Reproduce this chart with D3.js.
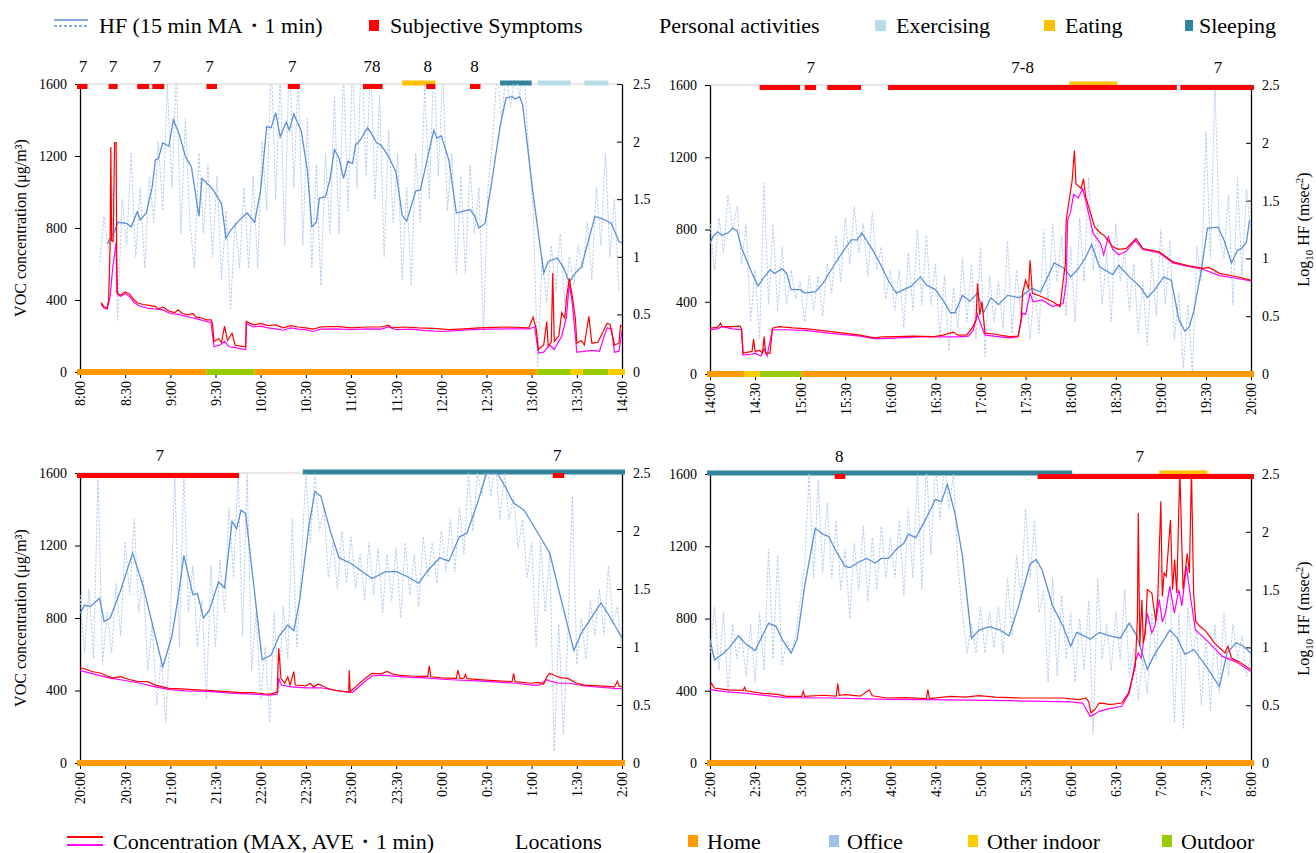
<!DOCTYPE html>
<html>
<head>
<meta charset="utf-8">
<script src="https://cdn.jsdelivr.net/npm/d3@7/dist/d3.min.js"></script>
<style>
  body { margin: 0; background: #fff; }
  svg, svg text { font-family: 'Liberation Serif', 'Times New Roman', Times, Tinos, 'Noto Serif', 'DejaVu Serif', FreeSerif, serif; }
  svg text { fill: #000; }
</style>
</head>
<body>
<div id="chart"></div>
<script>
// ---- data (minutes from panel start) ----
const p1Ticks = ["8:00","8:30","9:00","9:30","10:00","10:30","11:00","11:30","12:00","12:30","13:00","13:30","14:00"];
const p2Ticks = ["14:00","14:30","15:00","15:30","16:00","16:30","17:00","17:30","18:00","18:30","19:00","19:30","20:00"];
const p3Ticks = ["20:00","20:30","21:00","21:30","22:00","22:30","23:00","23:30","0:00","0:30","1:00","1:30","2:00"];
const p4Ticks = ["2:00","2:30","3:00","3:30","4:00","4:30","5:00","5:30","6:00","6:30","7:00","7:30","8:00"];

const RAW_STEP = 3; // 1-min HF shown every 3 min

// panel 1 : 8:00-14:00
const p1HfMa = [[18,1.11],[20,1.16],[23,1.22],[25,1.30],[31,1.29],[34,1.26],[38,1.39],[40,1.32],[44,1.38],[48,1.61],[50,1.84],[52,1.85],[55,1.99],[59,1.96],[62,2.19],[66,2.06],[70,1.87],[74,1.78],[79,1.35],[81,1.68],[88,1.59],[94,1.46],[97,1.16],[100,1.23],[106,1.32],[111,1.38],[116,1.30],[120,1.58],[124,2.13],[127,2.12],[130,2.25],[133,2.04],[137,2.17],[139,2.10],[142,2.24],[147,2.09],[151,1.75],[154,1.26],[157,1.30],[159,1.51],[163,1.52],[166,1.67],[169,1.93],[172,1.86],[175,1.68],[178,1.83],[181,1.81],[183,1.97],[186,2.01],[191,2.12],[194,2.06],[197,1.99],[200,1.97],[205,1.87],[210,1.73],[214,1.36],[217,1.31],[223,1.57],[226,1.58],[229,1.75],[235,2.10],[237,2.03],[240,2.05],[245,1.84],[250,1.38],[259,1.41],[262,1.36],[265,1.25],[269,1.29],[273,1.61],[279,2.13],[283,2.38],[287,2.39],[289,2.37],[292,2.39],[294,2.32],[301,1.54],[308,0.86],[311,0.96],[317,0.99],[321,0.91],[325,0.78],[329,0.86],[333,0.91],[342,1.35],[347,1.33],[353,1.29],[358,1.13],[360,1.12]];
const p1RawStart = 13;
const p1HfRaw = [0.95,1.35,1.05,1.60,0.45,1.5,1.1,1.9,1.0,1.6,
  0.9,1.7,1.3,2.0,1.4,2.5,1.6,2.6,1.2,2.2,
  1.3,0.9,1.9,1.2,1.8,1.0,1.7,0.8,1.4,0.55,
  1.3,0.9,1.6,0.9,1.7,0.9,2.0,1.4,2.7,1.5,
  2.6,1.1,2.8,1.6,2.6,1.1,2.2,0.9,1.8,0.75,
  1.9,1.2,2.4,1.2,2.6,1.4,2.7,1.6,2.8,1.7,
  2.7,1.5,2.4,1.0,2.1,1.3,1.9,0.8,1.6,0.75,
  1.9,1.3,2.5,1.5,2.7,1.7,2.6,1.4,1.9,0.85,
  1.7,0.85,1.8,1.2,1.6,0.35,1.6,2.0,2.6,2.2,
  2.6,2.3,2.6,2.4,2.6,1.9,1.4,0.05,1.0,0.6,
  1.1,0.7,1.2,0.6,1.0,0.75,1.1,0.9,1.3,0.8,
  1.6,1.1,1.9,1.0,1.5,0.7];
const p1VocMax = [[14,385],[16,362],[18,355],[19,400],[20,700],[20.5,1250],[21,730],[22,725],[23,1275],[24,1275],[24.5,440],[27,425],[30,445],[33,432],[36,400],[38,385],[42,375],[46,370],[50,365],[52,348],[55,362],[58,345],[60,335],[63,330],[65,345],[68,325],[72,318],[75,325],[77,305],[81,300],[84,290],[87,290],[88,270],[89,170],[92,185],[94,165],[96,255],[98,175],[101,215],[103,150],[106,145],[110,140],[110.5,282],[113,270],[116,262],[120,270],[125,258],[130,262],[135,245],[140,258],[145,250],[150,245],[155,238],[160,250],[166,252],[172,252],[180,245],[190,250],[200,250],[205,260],[207,245],[215,250],[225,245],[235,242],[245,235],[255,240],[265,245],[275,248],[285,250],[298,245],[301,305],[303,240],[304.5,125],[308,150],[310,280],[311,145],[313,165],[314,550],[315,170],[318,200],[320,330],[322,300],[323,400],[325,520],[327,420],[329,300],[330,160],[333,175],[335,150],[338,310],[340,160],[344,165],[350,270],[352,265],[355,150],[358,160],[359,260],[360,255]];
const p1VocAve = [[14,375],[16,355],[18,350],[20,420],[22,600],[23,650],[24,720],[25,430],[27,420],[30,435],[33,420],[36,385],[40,365],[45,355],[50,350],[55,345],[60,325],[65,320],[70,310],[75,300],[80,290],[84,280],[87,275],[89,140],[93,150],[96,170],[99,140],[103,135],[106,130],[110,125],[110.5,270],[115,250],[120,255],[125,245],[130,240],[135,232],[140,245],[145,238],[150,235],[155,225],[160,238],[170,240],[180,235],[190,240],[200,238],[205,250],[210,235],[220,238],[230,230],[240,225],[250,230],[260,235],[270,238],[285,240],[298,240],[302,250],[304.5,105],[308,110],[312,150],[315,125],[320,200],[323,300],[325,490],[327,380],[329,200],[330,110],[335,115],[340,120],[345,115],[350,245],[353,240],[355,110],[358,115],[360,230]];
const p1Symptoms = [[-2,5],[19,25],[38,46],[48,56],[84,91],[138,146],[188,201],[230,236],[259,266]];
const p1SymptomLabels = [[2,"7"],[22,"7"],[51,"7"],[86,"7"],[141,"7"],[194,"78"],[231,"8"],[262,"8"]];
const p1Activities = [["eating",214,236],["sleeping",279,300],["exercising",304,326],["exercising",335,351]];
const p1Locations = [["home",-2,84],["outdoor",84,116],["home",116,304],["outdoor",304,326],["other",326,334],["outdoor",334,351],["other",351,362]];

// panel 2 : 14:00-20:00
const p2HfMa = [[0,1.13],[2,1.19],[5,1.23],[8,1.20],[12,1.22],[15,1.26],[18,1.24],[21,1.09],[28,0.87],[32,0.76],[35,0.82],[40,0.90],[43,0.87],[48,0.91],[51,0.87],[54,0.73],[60,0.73],[63,0.70],[70,0.71],[75,0.78],[82,0.93],[89,1.07],[94,1.16],[98,1.16],[101,1.22],[107,1.10],[113,0.96],[119,0.80],[124,0.70],[129,0.73],[134,0.76],[140,0.84],[144,0.77],[150,0.73],[155,0.64],[160,0.53],[163,0.53],[168,0.68],[173,0.63],[178,0.70],[182,0.53],[187,0.66],[192,0.60],[198,0.68],[206,0.66],[214,0.74],[220,0.71],[229,0.96],[236,0.91],[240,0.84],[245,0.91],[250,1.01],[254,1.12],[259,0.93],[268,0.86],[272,0.94],[279,0.84],[286,0.76],[291,0.66],[296,0.73],[302,0.84],[307,0.81],[312,0.47],[316,0.37],[319,0.41],[322,0.55],[327,0.90],[331,1.26],[338,1.27],[342,1.16],[347,0.96],[351,1.07],[354,1.09],[357,1.14],[359,1.33]];
const p2RawStart = 0;
const p2HfRaw = [1.3,0.9,1.35,1.05,1.55,1.25,1.45,0.95,1.3,0.45,
  0.9,0.3,1.65,0.6,1.3,0.55,1.1,0.6,0.9,0.65,
  0.8,0.45,0.85,0.55,0.85,0.5,0.95,0.7,1.2,0.8,
  1.35,0.95,1.45,1.05,1.3,0.85,1.4,0.9,1.1,0.65,
  0.9,0.55,0.9,0.4,1.05,0.55,1.25,0.6,1.2,0.6,
  0.95,0.3,0.85,0.2,0.75,0.4,1.0,0.45,0.95,0.3,
  1.1,0.15,0.85,0.45,0.8,0.4,1.15,0.35,0.9,0.5,
  0.8,0.3,0.75,0.35,1.25,0.6,1.3,0.8,1.2,0.5,
  1.1,0.45,1.35,0.8,1.7,0.9,1.3,0.6,1.05,0.45,
  1.3,0.8,1.05,0.55,0.95,0.35,0.8,0.25,1.0,0.5,
  1.25,0.6,1.15,0.3,0.7,0.05,0.6,0.0,1.1,0.8,
  2.1,1.0,2.5,1.2,1.0,1.55,0.6,1.7,0.85,1.6,
  1.2];
const p2VocMax = [[0,254],[5,258],[7,281],[8,262],[15,262],[20,265],[21,250],[22,116],[28,125],[29,193],[30,125],[33,130],[35,116],[36,207],[37,116],[40,116],[41.5,254],[46,262],[55,255],[65,250],[75,240],[89,226],[100,215],[109,200],[115,205],[124,207],[135,210],[149,207],[155,215],[162,232],[165,215],[171,217],[175,262],[177,300],[178,502],[179.5,327],[181,400],[183,226],[190,220],[199,207],[205,210],[207,300],[208,447],[210,520],[212,469],[213,630],[214.5,447],[221,428],[228,400],[233,373],[234.5,483],[236.5,612],[237,851],[239,962],[241,1072],[242.5,1237],[243.5,1054],[247,1026],[248.5,1081],[250,980],[256,814],[260,778],[262,770],[268,704],[272,690],[277,695],[283.5,750],[288,695],[299,676],[308,621],[318,600],[328,585],[332,590],[339,557],[350,540],[360,520]];
const p2VocAve = [[0,245],[5,250],[8,262],[15,250],[21,245],[22,105],[28,110],[30,115],[34,100],[36,140],[38,100],[41.5,245],[50,245],[65,240],[80,225],[100,210],[110,195],[125,200],[140,205],[155,205],[165,205],[172,210],[175,240],[178,330],[180,280],[183,215],[199,200],[205,205],[208,337],[210,330],[213,447],[215,400],[221,410],[228,373],[235,390],[237,500],[238,851],[240,900],[242,995],[245,975],[248,1026],[250,960],[255,778],[260,720],[262,660],[265,760],[268,690],[272,660],[277,680],[283,740],[288,690],[299,670],[308,615],[318,595],[328,580],[339,545],[350,530],[360,515]];
const p2Symptoms = [[33,60],[63,70.5],[78,100.5],[118.5,310.7],[313,362]];
const p2SymptomLabels = [[67,"7"],[208,"7-8"],[338,"7"]];
const p2Activities = [["eating",239,271]];
const p2Locations = [["home",-2,23],["other",23,33],["outdoor",33,61],["home",61,362]];

// panel 3 : 20:00-2:00
const p3HfMa = [[0,1.29],[3,1.36],[7,1.35],[13,1.42],[16,1.22],[20,1.25],[27,1.49],[35,1.81],[42,1.52],[55,0.83],[61,1.09],[65,1.41],[69,1.79],[75,1.45],[78,1.46],[82,1.25],[86,1.32],[92,1.56],[96,1.51],[101,2.08],[104,2.02],[107,2.18],[110,2.15],[121,0.89],[127,0.93],[132,1.09],[138,1.19],[142,1.14],[146,1.41],[152,2.04],[156,2.34],[160,2.30],[166,2.01],[172,1.77],[180,1.72],[194,1.59],[203,1.65],[210,1.65],[217,1.61],[225,1.55],[231,1.66],[239,1.77],[245,1.74],[252,1.95],[257,1.98],[264,2.24],[270,2.50],[277,2.50],[283,2.37],[288,2.24],[295,2.18],[307,1.92],[312,1.81],[318,1.49],[328,0.97],[333,1.12],[346,1.38],[351,1.28],[360,1.08]];
const p3RawStart = 0;
const p3HfRaw = [1.45,0.95,1.5,0.9,2.5,0.85,1.3,0.95,1.55,1.1,
  1.9,1.45,2.1,1.3,1.6,0.8,1.2,0.5,0.9,0.35,
  1.2,2.5,1.0,2.5,1.3,1.7,1.0,1.4,0.55,1.7,
  1.0,1.75,1.3,2.2,1.6,2.5,1.1,2.5,0.8,1.3,
  0.55,1.0,0.35,1.3,0.6,1.35,0.9,2.1,1.0,1.7,
  2.5,1.9,2.5,2.0,2.2,1.6,1.9,1.5,2.0,1.55,
  1.95,1.5,1.8,1.4,1.9,1.45,1.85,1.3,1.8,1.4,
  1.85,1.25,1.9,1.45,1.8,1.35,1.95,1.6,1.9,1.55,
  2.0,1.65,2.1,1.65,2.2,1.8,2.5,2.0,2.5,2.3,
  2.6,2.3,2.6,2.1,2.5,2.1,2.3,1.85,2.1,1.6,
  1.9,1.0,1.9,1.3,1.8,0.1,1.2,0.25,1.1,2.3,
  0.85,1.25,0.9,1.4,1.1,1.5,1.1,1.7,1.2,1.35,
  0.95];
const p3VocMax = [[0,526],[3,520],[8,505],[14,495],[18,480],[22,470],[27,476],[32,462],[38,450],[45,449],[50,430],[55,420],[59,412],[65,410],[75,405],[87,400],[95,395],[105,390],[115,388],[122,382],[127,380],[131,393],[132,633],[133.5,467],[136,440],[138,475],[139.5,430],[142,504],[143,430],[150,425],[153,440],[155,420],[158,435],[160,430],[165,410],[170,400],[175,395],[178.5,393],[178.8,512],[179.5,393],[183,420],[190,470],[194,495],[200,492],[204,505],[208,490],[211,485],[220,480],[226,478],[231,478],[232,536],[233,476],[240,470],[250,467],[251,512],[252.5,467],[255,468],[256,490],[257,465],[265,460],[275,455],[287,449],[288,495],[289,449],[300,440],[304,445],[308,435],[310,475],[312,495],[316,480],[320,470],[324,467],[330,440],[335,430],[345,425],[355,420],[357,450],[358,425],[360,421]];
const p3VocAve = [[0,510],[5,500],[12,485],[20,468],[30,455],[40,440],[50,420],[60,405],[70,398],[85,395],[100,385],[115,380],[125,375],[131,380],[132,465],[134,430],[140,420],[150,415],[160,415],[170,400],[178,390],[181,390],[190,455],[194,480],[200,485],[210,478],[220,472],[230,470],[240,462],[250,458],[260,455],[270,450],[280,445],[290,440],[300,430],[305,430],[310,460],[313,450],[318,440],[325,440],[335,425],[345,418],[355,412],[360,410]];
const p3Symptoms = [[-2,105.6],[314,321.6]];
const p3SymptomLabels = [[53,"7"],[317,"7"]];
const p3Activities = [["sleeping",148,362]];
const p3Locations = [["home",-2,362]];

// panel 4 : 2:00-8:00
const p4HfMa = [[0,1.07],[3,0.89],[9,0.95],[13,1.00],[19,1.10],[23,1.04],[30,0.97],[34,1.08],[39,1.21],[44,1.18],[48,1.07],[54,0.95],[58,1.07],[63,1.53],[70,2.03],[75,1.98],[79,1.96],[84,1.83],[90,1.70],[93,1.69],[98,1.73],[104,1.77],[110,1.73],[114,1.77],[119,1.77],[124,1.85],[129,1.90],[132,1.98],[137,1.95],[144,2.12],[150,2.28],[154,2.26],[158,2.41],[163,2.16],[168,1.79],[174,1.08],[179,1.15],[186,1.18],[193,1.15],[199,1.10],[205,1.34],[213,1.72],[217,1.76],[221,1.67],[228,1.36],[235,1.18],[240,1.01],[244,1.13],[249,1.10],[253,1.07],[259,1.13],[266,1.10],[273,1.08],[279,1.21],[284,1.10],[291,0.81],[295,0.92],[306,1.15],[311,1.08],[316,0.94],[322,0.98],[330,0.84],[339,0.66],[344,0.95],[350,1.04],[355,1.01],[360,0.95]];
const p4RawStart = 0;
const p4HfRaw = [0.95,1.35,0.8,1.3,0.6,1.2,0.9,1.1,0.75,1.2,
  0.7,1.3,0.8,1.85,0.9,1.8,0.85,1.05,0.95,1.1,
  1.4,1.7,2.5,1.6,2.45,1.65,2.25,1.6,2.1,1.5,
  1.85,1.25,1.9,1.5,2.05,1.4,1.95,1.5,2.05,1.6,
  1.95,1.6,2.1,1.45,2.2,1.6,2.5,1.5,2.6,1.8,
  2.6,2.1,2.6,2.2,2.5,1.7,1.3,0.95,1.2,0.95,
  1.35,0.95,1.3,1.0,1.35,0.95,1.6,1.1,1.8,1.4,
  2.2,1.6,2.1,1.3,1.5,0.7,1.6,0.75,1.45,0.9,
  1.3,0.7,1.25,0.8,1.4,0.25,1.6,0.9,1.2,0.8,
  1.3,0.9,1.5,0.75,1.0,0.55,0.9,0.6,1.3,0.9,
  1.7,1.2,1.55,0.35,1.3,0.3,1.35,0.95,1.15,0.5,
  1.1,0.45,1.2,0.6,1.3,0.75,1.2,0.9,1.1,0.75,
  0.95];
const p4VocMax = [[0,424],[1,440],[3,415],[12,405],[22,402],[23,420],[24,400],[35,385],[45,380],[51,369],[61,369],[62,397],[63,369],[75,375],[84,370],[85,440],[86,375],[90,378],[100,370],[106,405],[108,372],[118,360],[130,362],[144,356],[145,406],[146,356],[160,369],[170,365],[179,373],[190,365],[200,362],[207,360],[220,360],[235,360],[240,355],[246,351],[250,360],[252,340],[253.5,277],[256,295],[259,332],[262,330],[266,323],[274,332],[278.5,388],[283,535],[284.4,793],[285,1384],[286,646],[287.4,904],[288.3,664],[289.7,720],[291,960],[294,941],[296.6,784],[298,923],[300,1449],[301,923],[302.2,1052],[303.6,1033],[306.4,1347],[307.8,960],[309.2,1126],[310.6,941],[312.6,1620],[314.8,960],[317.6,1159],[319,1052],[320.4,1620],[321.8,941],[323.2,784],[326,757],[330,729],[335.8,664],[342.7,609],[344.7,646],[347,581],[352,560],[360,517]];
const p4VocAve = [[0,406],[10,395],[25,385],[50,362],[80,360],[120,352],[160,350],[200,345],[240,338],[248,332],[253,258],[256,270],[259,286],[265,300],[274,314],[279,388],[283,560],[285,609],[287,580],[291,830],[294,720],[296,757],[299,904],[301,780],[303,830],[306,978],[309,830],[312,960],[314,870],[317,1089],[320,904],[323,738],[330,683],[341,590],[350,560],[360,507]];
const p4Symptoms = [[83,90],[218,362]];
const p4SymptomLabels = [[86,"8"],[286,"7"]];
const p4Activities = [["sleeping",-2,241],["eating",299,331]];
const p4Locations = [["home",-2,362]];

const vocTicks = [0, 400, 800, 1200, 1600];
const hfTicks = [0, 0.5, 1, 1.5, 2, 2.5];

// ---- styles ----
const colors = {
  home: "#ff9900", office: "#9dc3e6", other: "#ffcc00", outdoor: "#99cc00",
  exercising: "#b7dee8", eating: "#ffc000", sleeping: "#31849b",
  symptom: "#ff0000", vocMax: "#ff0000", vocAve: "#ff00ff",
  hfMa: "#5b8fd9", hfRaw: "#b6cdee"
};

const panels = [
  {x0: 80, x1: 622, y0: 84, y1: 372, left: true,
   ticks: p1Ticks, hfMa: p1HfMa, rawStart: p1RawStart, hfRaw: p1HfRaw, vocMax: p1VocMax, vocAve: p1VocAve,
   symptoms: p1Symptoms, labels: p1SymptomLabels, activities: p1Activities, locations: p1Locations},
  {x0: 710, x1: 1251, y0: 85, y1: 374, left: false,
   ticks: p2Ticks, hfMa: p2HfMa, rawStart: p2RawStart, hfRaw: p2HfRaw, vocMax: p2VocMax, vocAve: p2VocAve,
   symptoms: p2Symptoms, labels: p2SymptomLabels, activities: p2Activities, locations: p2Locations},
  {x0: 80, x1: 622, y0: 473, y1: 763, left: true,
   ticks: p3Ticks, hfMa: p3HfMa, rawStart: p3RawStart, hfRaw: p3HfRaw, vocMax: p3VocMax, vocAve: p3VocAve,
   symptoms: p3Symptoms, labels: p3SymptomLabels, activities: p3Activities, locations: p3Locations},
  {x0: 710, x1: 1251, y0: 474, y1: 763, left: false,
   ticks: p4Ticks, hfMa: p4HfMa, rawStart: p4RawStart, hfRaw: p4HfRaw, vocMax: p4VocMax, vocAve: p4VocAve,
   symptoms: p4Symptoms, labels: p4SymptomLabels, activities: p4Activities, locations: p4Locations}
];

const svg = d3.select("#chart").append("svg")
  .attr("width", 1316).attr("height", 853);

function styleAxis(g) {
  g.attr("font-family", null).attr("font-size", 14);
  g.selectAll("text").attr("fill", "#000");
  g.selectAll("line").attr("stroke", "#000");
}

panels.forEach((p, idx) => {
  const g = svg.append("g").attr("class", "panel" + idx);

  const x = d3.scaleLinear().domain([0, 360]).range([p.x0, p.x1]);
  const yL = d3.scaleLinear().domain([0, 1600]).range([p.y1, p.y0]);
  const yR = d3.scaleLinear().domain([0, 2.5]).range([p.y1, p.y0]);

  const clipId = "clip" + idx;
  svg.append("clipPath").attr("id", clipId).append("rect")
    .attr("x", p.x0).attr("y", p.y0).attr("width", p.x1 - p.x0).attr("height", p.y1 - p.y0);

  // top frame line
  g.append("line")
    .attr("x1", p.x0).attr("x2", p.x1).attr("y1", p.y0).attr("y2", p.y0)
    .attr("stroke", "#d0d0d0").attr("stroke-width", 1.2);

  // axes
  const axL = g.append("g").attr("transform", `translate(${p.x0},0)`)
    .call(d3.axisLeft(yL).tickValues(vocTicks).tickSize(5).tickSizeOuter(0).tickPadding(8)
      .tickFormat(d3.format("d")));
  styleAxis(axL);
  axL.select(".domain").attr("stroke", "#000").attr("stroke-width", 1.3);

  const axR = g.append("g").attr("transform", `translate(${p.x1},0)`)
    .call(d3.axisRight(yR).tickValues(hfTicks).tickSize(-5).tickSizeOuter(0).tickPadding(11).tickFormat(d => String(d)));
  styleAxis(axR);
  axR.select(".domain").attr("stroke", "#000").attr("stroke-width", 1.3);

  const axB = g.append("g").attr("transform", `translate(0,${p.y1})`)
    .call(d3.axisBottom(x).tickValues(d3.range(0, 361, 30)).tickSize(6).tickFormat((d, i) => p.ticks[i]));
  styleAxis(axB);
  axB.select(".domain").remove();
  axB.selectAll("text")
    .attr("transform", "rotate(-90)")
    .attr("x", -9).attr("y", 0).attr("dy", "0.35em")
    .attr("text-anchor", "end");

  // activity bars (above the frame)
  g.selectAll(".act").data(p.activities).join("rect")
    .attr("class", "act")
    .attr("x", d => x(d[1])).attr("width", d => x(d[2]) - x(d[1]))
    .attr("y", p.y0 - 3.5).attr("height", 5)
    .attr("fill", d => colors[d[0]]);

  // 1-min HF (dashed), 15-min MA, concentrations
  const lines = g.append("g").attr("clip-path", `url(#${clipId})`);
  const lineR = d3.line().x(d => x(d[0])).y(d => yR(d[1]));
  const lineL = d3.line().x(d => x(d[0])).y(d => yL(d[1]));
  const raw = p.hfRaw.map((v, i) => [p.rawStart + i * RAW_STEP, v]);

  lines.append("path").datum(raw).attr("d", lineR)
    .attr("fill", "none").attr("stroke", colors.hfRaw).attr("stroke-width", 1)
    .attr("stroke-dasharray", "2.5,1.5");
  lines.append("path").datum(p.hfMa).attr("d", lineR)
    .attr("fill", "none").attr("stroke", colors.hfMa).attr("stroke-width", 1.3);
  lines.append("path").datum(p.vocAve).attr("d", lineL)
    .attr("fill", "none").attr("stroke", colors.vocAve).attr("stroke-width", 1.2);
  lines.append("path").datum(p.vocMax).attr("d", lineL)
    .attr("fill", "none").attr("stroke", colors.vocMax).attr("stroke-width", 1.2);

  // symptom bars (just under the frame)
  g.selectAll(".sym").data(p.symptoms).join("rect")
    .attr("class", "sym")
    .attr("x", d => x(d[0])).attr("width", d => x(d[1]) - x(d[0]))
    .attr("y", p.y0).attr("height", 5)
    .attr("fill", colors.symptom);

  g.selectAll(".symLabel").data(p.labels).join("text")
    .attr("class", "symLabel")
    .attr("x", d => x(d[0])).attr("y", p.y0 - 18)
    .attr("dy", "0.35em").attr("text-anchor", "middle")
    .attr("font-size", 17)
    .text(d => d[1]);

  // locations bar on the time axis
  g.selectAll(".loc").data(p.locations).join("rect")
    .attr("class", "loc")
    .attr("x", d => x(d[1])).attr("width", d => x(d[2]) - x(d[1]))
    .attr("y", p.y1 - 3).attr("height", 6)
    .attr("fill", d => colors[d[0]]);

  // axis titles
  const midY = (p.y0 + p.y1) / 2;
  if (p.left) {
    g.append("text")
      .attr("transform", `translate(20,${midY}) rotate(-90)`)
      .attr("text-anchor", "middle").attr("dy", "0.35em")
      .attr("font-size", 16)
      .text("VOC concentration (μg/m³)");
  } else {
    const t = g.append("text")
      .attr("transform", `translate(1303,${midY}) rotate(-90)`)
      .attr("text-anchor", "middle").attr("dy", "0.35em")
      .attr("font-size", 16);
    t.append("tspan").text("Log");
    t.append("tspan").attr("font-size", 11).attr("dy", 4).text("10");
    t.append("tspan").attr("dy", -4).text(" HF (msec");
    t.append("tspan").attr("font-size", 11).attr("dy", -6).text("2");
    t.append("tspan").attr("dy", 6).text(")");
  }
});

// ---- legends ----
function legendText(g, x, y, label) {
  g.append("text").attr("x", x).attr("y", y).attr("dy", "0.35em").text(label);
}

const legTop = svg.append("g").attr("font-size", 22);
legTop.append("line").attr("x1", 54).attr("x2", 88).attr("y1", 20).attr("y2", 20)
  .attr("stroke", colors.hfMa).attr("stroke-width", 1.3);
legTop.append("line").attr("x1", 54).attr("x2", 88).attr("y1", 26).attr("y2", 26)
  .attr("stroke", colors.hfMa).attr("stroke-width", 1.3).attr("stroke-dasharray", "3,2");
legendText(legTop, 99, 25, "HF (15 min MA・1 min)");
legTop.append("rect").attr("x", 369).attr("y", 20).attr("width", 10).attr("height", 11).attr("fill", colors.symptom);
legendText(legTop, 390, 25, "Subjective Symptoms");
legendText(legTop, 659, 25, "Personal activities");
[["exercising", 875, 896, "Exercising"], ["eating", 1044, 1065, "Eating"], ["sleeping", 1185, 1199, "Sleeping"]]
  .forEach(([k, sx, tx, label]) => {
    legTop.append("rect").attr("x", sx).attr("y", 20).attr("width", k === "sleeping" ? 8 : 11).attr("height", 11).attr("fill", colors[k]);
    legendText(legTop, tx, 25, label);
  });

const legBot = svg.append("g").attr("font-size", 22);
legBot.append("line").attr("x1", 67).attr("x2", 103).attr("y1", 837).attr("y2", 837)
  .attr("stroke", colors.vocMax).attr("stroke-width", 2);
legBot.append("line").attr("x1", 67).attr("x2", 103).attr("y1", 845).attr("y2", 845)
  .attr("stroke", colors.vocAve).attr("stroke-width", 2);
legendText(legBot, 113, 841, "Concentration (MAX, AVE・1 min)");
legendText(legBot, 515, 841, "Locations");
[["home", 688, 707, "Home"], ["office", 829, 847, "Office"], ["other", 968, 987, "Other indoor"], ["outdoor", 1162, 1181, "Outdoor"]]
  .forEach(([k, sx, tx, label]) => {
    legBot.append("rect").attr("x", sx).attr("y", 835).attr("width", 10).attr("height", 12).attr("fill", colors[k]);
    legendText(legBot, tx, 841, label);
  });
</script>
</body>
</html>
